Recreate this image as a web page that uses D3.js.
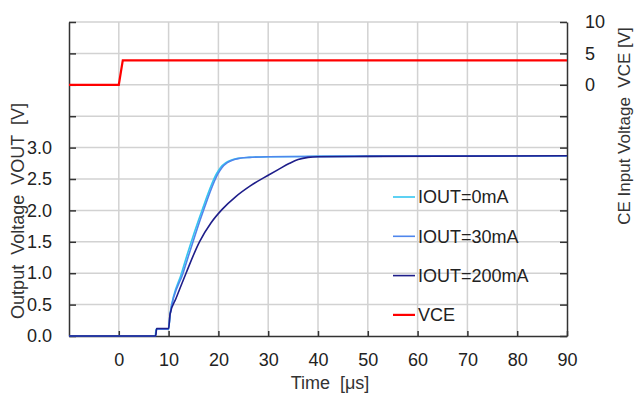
<!DOCTYPE html>
<html>
<head>
<meta charset="utf-8">
<script src="https://cdn.jsdelivr.net/npm/d3@7"></script>
<style>
  body { margin: 0; background: #fff; }
  text { font-family: "Liberation Sans", Arial, sans-serif; }
</style>
</head>
<body>
<div id="chart"></div>
<script>
// data
var timeTicks = [0, 10, 20, 30, 40, 50, 60, 70, 80, 90];
var voutTicks = [0, 0.5, 1, 1.5, 2, 2.5, 3, 3.5, 4, 4.5, 5];
var vceTicks = [-40, -35, -30, -25, -20, -15, -10, -5, 0, 5, 10];

var t0mA = [-10, 7.3, 7.5, 10.0, 10.3, 12.6, 16.7, 19.6, 20.4, 21.5, 22.5, 24, 26, 30, 40, 60, 90];
var v0mA = [0, 0, 0.11, 0.11, 0.35, 1.0, 2.0, 2.58, 2.68, 2.76, 2.8, 2.83, 2.845, 2.855, 2.86, 2.865, 2.87];

var t30mA = [-10, 7.4, 7.6, 10.0, 10.3, 12.9, 17.0, 19.9, 20.7, 21.8, 22.8, 24.3, 26.3, 30, 40, 60, 90];
var v30mA = [0, 0, 0.11, 0.11, 0.35, 1.0, 2.0, 2.58, 2.68, 2.76, 2.8, 2.83, 2.845, 2.855, 2.86, 2.865, 2.87];

var t200mA = [-10, 7.4, 7.6, 10.0, 10.3, 11.5, 13.5, 16.2, 18.5, 20.8, 23.5, 26.4, 30, 32, 34.3, 36, 38, 40, 50, 90];
var v200mA = [0, 0, 0.12, 0.12, 0.35, 0.6, 1.0, 1.5, 1.8, 2.02, 2.22, 2.39, 2.56, 2.65, 2.75, 2.81, 2.845, 2.855, 2.86, 2.87];

var tVce = [-10, 0, 0.8, 90];
var vVce = [0, 0, 3.9, 3.9];

var seriesNames = ['IOUT=0mA', 'IOUT=30mA', 'IOUT=200mA', 'VCE'];
var seriesColors = ['#35c6f0', '#4f86ec', '#1e1e8a', '#ff0000'];

function drawChart() {
  var svg = d3.select('#chart')
    .append('svg')
    .attr('width', 635)
    .attr('height', 396);

  var margin = { top: 22, right: 68, bottom: 60, left: 69 },
    width = 635 - margin.left - margin.right,
    height = 396 - margin.top - margin.bottom;

  var g = svg.append('g')
    .attr('transform', 'translate(' + margin.left + ',' + margin.top + ')');

  var x = d3.scaleLinear().domain([-10, 90]).range([0, width]);
  var yL = d3.scaleLinear().domain([0, 5]).range([height, 0]);
  var yR = d3.scaleLinear().domain([-40, 10]).range([height, 0]);

  // grid
  g.append('g').selectAll('line')
    .data(timeTicks.filter(function (d) { return d < 90; }))
    .enter().append('line')
    .attr('x1', function (d) { return x(d); })
    .attr('x2', function (d) { return x(d); })
    .attr('y1', 0).attr('y2', height)
    .attr('stroke', '#d2d2d2').attr('stroke-width', 1.5);

  g.append('g').selectAll('line')
    .data(voutTicks.filter(function (d) { return d > 0; }))
    .enter().append('line')
    .attr('x1', 0).attr('x2', width)
    .attr('y1', function (d) { return yL(d); })
    .attr('y2', function (d) { return yL(d); })
    .attr('stroke', '#d2d2d2').attr('stroke-width', 1.5);

  // axes
  var xAxis = g.append('g')
    .attr('transform', 'translate(0,' + height + ')')
    .call(d3.axisBottom(x).tickValues(timeTicks).tickSizeInner(-5).tickSizeOuter(0).tickPadding(17));

  var yAxisL = g.append('g')
    .call(d3.axisLeft(yL).tickValues(voutTicks).tickSizeInner(-7).tickSizeOuter(0).tickPadding(17)
      .tickFormat(function (d) { return d <= 3 ? d3.format('.1f')(d) : ''; }));

  var yAxisR = g.append('g')
    .attr('transform', 'translate(' + width + ',0)')
    .call(d3.axisRight(yR).tickValues(vceTicks).tickSizeInner(-7).tickSizeOuter(0).tickPadding(18)
      .tickFormat(function (d) { return d >= 0 ? d : ''; }));

  [xAxis, yAxisL, yAxisR].forEach(function (a) {
    a.select('.domain').attr('stroke', '#333').attr('stroke-width', 1.5);
    a.selectAll('.tick line').attr('stroke', '#333').attr('stroke-width', 1.5);
    a.selectAll('.tick text').style('font-size', '18px').attr('fill', '#222');
  });
  xAxis.selectAll('.tick text').attr('dy', '0.72em');

  // titles
  svg.append('text')
    .attr('x', 330).attr('y', 389)
    .attr('text-anchor', 'middle')
    .attr('fill', '#333')
    .style('font-size', '18px')
    .style('white-space', 'pre')
    .text('Time  [\u03bcs]');

  svg.append('text')
    .attr('transform', 'translate(18,211) rotate(-90)')
    .attr('text-anchor', 'middle')
    .attr('dy', '0.35em')
    .attr('fill', '#333')
    .style('font-size', '18px')
    .style('white-space', 'pre')
    .text('Output  Voltage  VOUT  [V]');

  svg.append('text')
    .attr('transform', 'translate(624,126) rotate(-90)')
    .attr('text-anchor', 'middle')
    .attr('dy', '0.35em')
    .attr('fill', '#333')
    .style('font-size', '17px')
    .style('white-space', 'pre')
    .text('CE Input Voltage  VCE [V]');

  // curves
  var lineL = d3.line()
    .curve(d3.curveMonotoneX)
    .x(function (d) { return x(d[0]); })
    .y(function (d) { return yL(d[1]); });
  var lineR = d3.line()
    .x(function (d) { return x(d[0]); })
    .y(function (d) { return yR(d[1]); });

  var outSeries = [d3.zip(t0mA, v0mA), d3.zip(t30mA, v30mA), d3.zip(t200mA, v200mA)];

  g.selectAll('.vout')
    .data(outSeries)
    .enter().append('path')
    .attr('class', 'vout')
    .attr('d', lineL)
    .attr('fill', 'none')
    .attr('stroke', function (d, i) { return seriesColors[i]; })
    .attr('stroke-width', 1.6);

  g.append('path')
    .datum(d3.zip(tVce, vVce))
    .attr('d', lineR)
    .attr('fill', 'none')
    .attr('stroke', seriesColors[3])
    .attr('stroke-width', 2.2);

  // legend
  var legend = svg.append('g')
    .selectAll('g')
    .data(seriesNames)
    .enter().append('g')
    .attr('transform', function (d, i) { return 'translate(393,' + (197 + i * 39.3) + ')'; });

  legend.append('line')
    .attr('x1', 0).attr('x2', 22)
    .attr('stroke', function (d, i) { return seriesColors[i]; })
    .attr('stroke-width', function (d, i) { return i == 3 ? 2.2 : 1.6; });

  legend.append('text')
    .attr('x', 25)
    .attr('dy', '0.35em')
    .attr('fill', '#222')
    .style('font-size', '18px')
    .text(function (d) { return d; });
}

drawChart();
</script>
</body>
</html>
